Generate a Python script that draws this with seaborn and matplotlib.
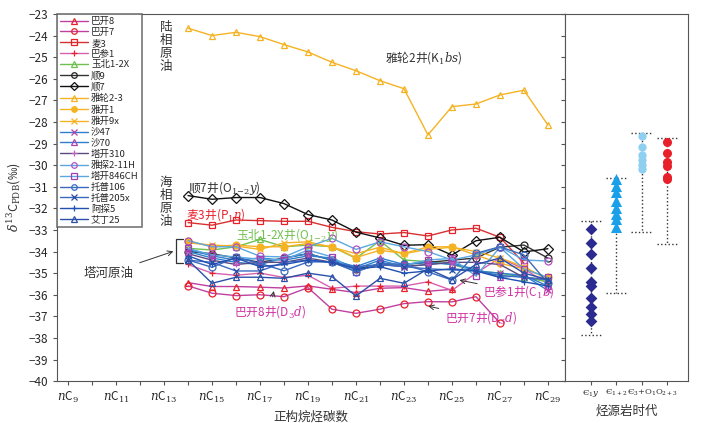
import numpy as np
import pandas as pd
import matplotlib
matplotlib.use('Agg')
import matplotlib.pyplot as plt
import seaborn as sns

sns.set_style('ticks')
plt.rcParams['font.family'] = ['Noto Sans CJK SC', 'DejaVu Sans']
plt.rcParams['mathtext.fontset'] = 'dejavuserif'
plt.rcParams['axes.unicode_minus'] = True

carbons = list(range(14, 30))

bakai8 = [-35.44, -35.62, -35.62, -35.65, -35.69, -35.59, -35.75, -35.9, -35.7, -35.67, -35.84, -35.75]
bakai7 = [-35.59, -35.93, -36.04, -36.0, -36.09, -35.67, -36.67, -36.86, -36.67, -36.41, -36.32, -36.33, -36.09, -37.31]
mai3 = [-32.66, -32.78, -32.54, -32.57, -32.6, -32.6, -32.88, -33.08, -33.19, -33.12, -33.28, -33.0, -32.92, -33.34, -34.54]
bashen1 = [-34.6, -35.0, -35.1, -35.0, -35.2, -35.1, -35.7, -35.6, -35.6, -35.6, -35.4, -35.8, -35.0, -34.3, -34.8, -35.5]
yubei = [-33.85, -33.93, -33.78, -33.44, -33.78, -33.7, -33.78, -34.31, -33.5, -34.39, -34.47, -34.6, -34.9, -35.0, -35.2, -35.4]
shun9 = [-34.0, -34.1, -34.3, -34.5, -34.3, -34.1, -34.4, -34.8, -34.6, -34.6, -34.5, -34.4, -34.3, -33.8, -33.7, -34.3]
shun7 = [-31.41, -31.58, -31.5, -31.5, -31.78, -32.29, -32.54, -33.1, -33.37, -33.71, -33.68, -34.16, -33.5, -33.34, -34.02, -33.87]
yalun = [-23.66, -24.0, -23.85, -24.05, -24.42, -24.76, -25.24, -25.63, -26.09, -26.46, -28.6, -27.29, -27.17, -26.75, -26.53, -28.14]
yakai1 = [-33.5, -33.78, -33.7, -33.78, -33.78, -33.63, -33.78, -34.28, -33.94, -34.09, -33.78, -33.78, -34.16, -34.55, -34.8, -35.2]
yakai9x = [-33.6, -33.7, -33.75, -33.9, -33.6, -33.55, -33.8, -34.1, -33.8, -34.1, -33.9, -33.8, -34.0, -34.3, -34.7, -35.3]
sha47 = [-33.9, -34.2, -34.4, -34.3, -34.4, -34.2, -34.3, -34.8, -34.4, -34.7, -34.6, -34.5, -34.9, -35.0, -35.1, -35.8]
sha70 = [-34.0, -34.3, -34.5, -34.6, -34.3, -34.1, -34.4, -34.7, -34.3, -34.6, -34.5, -34.6, -34.8, -35.2, -35.1, -35.6]
takai310 = [-34.1, -34.4, -34.6, -34.5, -34.5, -34.3, -34.5, -34.9, -34.6, -34.7, -34.6, -34.5, -34.5, -34.6, -35.2, -35.3]
yatan = [-33.5, -33.78, -33.78, -34.22, -34.25, -33.78, -33.39, -33.9, -33.55, -33.78, -34.0, -34.39, -34.16, -33.78, -34.39, -34.44]
takai846 = [-33.85, -34.16, -34.25, -34.36, -34.39, -33.93, -34.25, -34.94, -34.52, -34.63, -34.39, -34.32, -35.13, -33.8, -34.81, -35.2]
tuopu106 = [-34.39, -34.73, -34.27, -34.55, -34.89, -34.48, -34.48, -34.94, -34.55, -34.6, -34.94, -35.32, -34.08, -33.78, -34.16, -35.47]
tuopu205 = [-34.4, -34.5, -34.9, -34.9, -34.5, -34.4, -34.5, -34.7, -34.6, -34.7, -34.8, -34.85, -34.9, -35.1, -35.2, -35.3]
atan5 = [-34.2, -34.6, -34.3, -34.7, -34.6, -34.4, -34.5, -34.8, -34.7, -35.0, -34.9, -34.8, -34.9, -35.2, -35.4, -35.6]
aiding25 = [-34.39, -35.47, -35.19, -35.19, -35.24, -35.0, -35.16, -36.06, -35.24, -35.47, -34.8, -35.3, -34.6, -34.3, -35.0, -35.3]

# name, values, line colour, marker, marker colour, filled
series = [
    ('巴开8', bakai8, '#c040a0', '^', '#e8202a', False),
    ('巴开7', bakai7, '#c040a0', 'o', '#e8202a', False),
    ('麦3', mai3, '#d83030', 's', '#e8202a', False),
    ('巴参1', bashen1, '#d860b0', '+', '#e8202a', False),
    ('玉北1-2X', yubei, '#70c050', '^', '#70c050', False),
    ('顺9', shun9, '#333333', 'o', '#222222', False),
    ('顺7', shun7, '#111111', 'D', '#111111', False),
    ('雅轮2-3', yalun, '#f5b324', '^', '#f5b324', False),
    ('雅开1', yakai1, '#f5b324', 'o', '#f5b324', True),
    ('雅开9x', yakai9x, '#f5b324', 'x', '#f5b324', False),
    ('沙47', sha47, '#2e7fd0', 'x', '#b040b0', False),
    ('沙70', sha70, '#2e7fd0', '^', '#b040b0', False),
    ('塔开310', takai310, '#5a4a80', '+', '#c060c0', False),
    ('雅探2-11H', yatan, '#5aa8e0', 'o', '#b050c0', False),
    ('塔开846CH', takai846, '#5aa8e0', 's', '#a040b0', False),
    ('托普106', tuopu106, '#3a6ac0', 'o', '#3a6ac0', False),
    ('托普205x', tuopu205, '#3a6ac0', 'x', '#2a4aa0', False),
    ('阿探5', atan5, '#2050b0', '+', '#2050b0', False),
    ('艾丁25', aiding25, '#2a50a8', '^', '#2a50a8', False),
]

ages = ['Є$_1y$', 'Є$_{1+2}$', 'Є$_3$+O$_1$', 'O$_{2+3}$']
c1y = [-32.97, -33.62, -34.13, -34.74, -35.39, -35.58, -36.16, -36.58, -36.89, -37.2]
c12 = [-30.64, -30.96, -31.23, -31.64, -32.0, -32.26, -32.51, -32.85]
c3o1 = [-28.65, -29.14, -29.53, -29.76, -29.99, -30.19]
o23 = [-28.94, -29.45, -29.84, -30.04, -30.53, -30.65]
age_ranges = [(-32.6, -37.88), (-30.6, -35.93), (-28.52, -33.1), (-28.76, -33.66)]

fig = plt.figure(figsize=(7.13, 4.23), dpi=100)
ax = fig.add_axes([0.08, 0.099, 0.712, 0.868])
ax2 = fig.add_axes([0.792, 0.099, 0.173, 0.868], sharey=ax)

for name, vals, lc, mk, mc, filled in series:
    x = carbons[:len(vals)]
    sns.lineplot(x=x, y=vals, ax=ax, color=lc, lw=1.0, marker=mk, markersize=5,
                 markeredgecolor=mc, markerfacecolor=mc if filled else 'none',
                 markeredgewidth=0.9, label=name)

ax.set_xlim(8.54, 29.7)
ax.set_ylim(-40, -23)
ax.set_yticks(range(-40, -22))
ax.set_xticks(range(9, 30))
ax.set_xticklabels([f'$n$C$_{{{c}}}$' if c % 2 else '' for c in range(9, 30)], fontsize=8)
ax.tick_params(axis='both', labelsize=8.5, length=3, color='#555555')
ax.set_xlabel('正构烷烃碳数', fontsize=9, color='#333333')
ax.set_ylabel(r'$\delta^{13}$C$_{\rm PDB}$(‰)', fontsize=9, color='#333333')
for s in ax.spines.values():
    s.set_color('#555555')

leg = ax.legend(loc='upper left', fontsize=6.8, labelspacing=0.2, handlelength=3,
                borderaxespad=0, frameon=True, fancybox=False, edgecolor='#555555',
                borderpad=0.3, handletextpad=0.3, markerscale=0.8)
leg.get_frame().set_linewidth(1.2)

# annotations
ax.text(0.215, 0.98, '陆\n相\n原\n油', transform=ax.transAxes, fontsize=9,
        va='top', ha='center', color='#333333', linespacing=1.0)
ax.text(0.215, 0.56, '海\n相\n原\n油', transform=ax.transAxes, fontsize=9,
        va='top', ha='center', color='#333333', linespacing=1.0)
ax.text(22.2, -25.2, '雅轮2井(K$_1$$bs$)', fontsize=8.5, color='#333333')
ax.text(14.0, -31.25, r'顺7井(O$_{1\!-\!2}y$)', fontsize=8.5, color='#333333')
ax.text(13.9, -32.45, '麦3井(P$_1n$)', fontsize=8.5, color='#e8202a')
ax.text(16.0, -33.4, r'玉北1-2X井(O$_{1\!-\!2}y$)', fontsize=8.5, color='#70c050')
ax.plot([13.8, 13.5, 13.5, 13.8], [-33.4, -33.4, -34.55, -34.55], color='#333333', lw=0.9)
ax.annotate('塔河原油', xy=(13.5, -33.95), xytext=(10.7, -35.0), fontsize=9,
            color='#333333', ha='center', va='center',
            arrowprops=dict(arrowstyle='->', color='#333333', lw=0.7))
ax.annotate('巴开8井(D$_3d$)', xy=(17.6, -35.7), xytext=(15.9, -36.95), fontsize=8.5,
            color='#d030a0', arrowprops=dict(arrowstyle='->', color='#333333', lw=0.7))
ax.annotate('巴开7井(D$_3d$)', xy=(23.9, -36.5), xytext=(24.7, -37.25), fontsize=8.5,
            color='#d030a0', arrowprops=dict(arrowstyle='->', color='#333333', lw=0.7))
ax.annotate('巴参1井(C$_1b$)', xy=(25.2, -35.3), xytext=(26.3, -36.05), fontsize=8.5,
            color='#d030a0', arrowprops=dict(arrowstyle='->', color='#333333', lw=0.7))

# right panel: source rock ages
groups = [(0, c1y, 'D', '#2a2a90', 6), (1, c12, '^', '#1aa0e8', 8),
          (2, c3o1, 'o', '#8fd0f0', 6), (3, o23, 'o', '#e8202a', 6.5)]
for (i, vals, mk, col, ms), (top, bot) in zip(groups, age_ranges):
    ax2.plot([i, i], [top, bot], ls=':', color='#333333', lw=1)
    ax2.plot([i - 0.4, i + 0.4], [top, top], ls=':', color='#333333', lw=1)
    ax2.plot([i - 0.4, i + 0.4], [bot, bot], ls=':', color='#333333', lw=1)
    sns.scatterplot(x=[i] * len(vals), y=vals, ax=ax2, marker=mk, color=col,
                    s=ms ** 2, edgecolor=col, linewidth=0, zorder=3)

ax2.set_xlim(-1.03, 3.83)
ax2.set_xticks(range(4))
ax2.set_xticklabels(ages, fontsize=6, family=['DejaVu Serif'])
ax2.get_xticklabels()[2].set_x(1.95)
ax2.tick_params(axis='y', labelleft=False, length=3, color='#555555')
ax2.tick_params(axis='x', length=3, color='#555555', pad=2)
ax2.set_xlabel('烃源岩时代', fontsize=9, color='#333333')
ax2.set_ylabel('')
for s in ax2.spines.values():
    s.set_color('#555555')

fig.savefig('out.png', dpi=100)
